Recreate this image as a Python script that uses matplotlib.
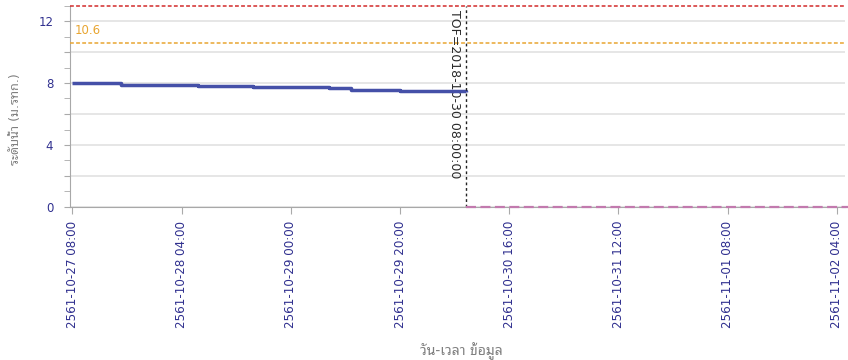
import matplotlib
matplotlib.use("Agg")
import matplotlib.pyplot as plt
import matplotlib.dates as mdates
from matplotlib.ticker import MultipleLocator, FuncFormatter
import pandas as pd

# observed water level (step changes), times in Gregorian, labels in Buddhist era
level_times = pd.to_datetime(["2018-10-27 08:00", "2018-10-27 17:00", "2018-10-28 07:00",
                              "2018-10-28 17:00", "2018-10-29 07:00", "2018-10-29 11:00",
                              "2018-10-29 20:00", "2018-10-30 07:00", "2018-10-30 08:00"])
level_values = [8.00, 7.88, 7.80, 7.71, 7.66, 7.56, 7.47, 7.47, 7.40]

forecast_times = pd.to_datetime(["2018-10-30 08:00", "2018-11-02 06:00"])
forecast_values = [0, 0]

tof_time = pd.Timestamp("2018-10-30 08:00")
bank_level = 13.0
warn_level = 10.6
tick_times = pd.date_range("2018-10-27 08:00", periods=8, freq="20h")

x_min = pd.Timestamp("2018-10-27 07:35")
x_max = pd.Timestamp("2018-11-02 05:28")

tick_col = "#30308f"
grey = "#7f7f7f"
thai = ["DejaVu Sans", "Noto Sans Thai Looped"]

fig = plt.figure(figsize=(8.48, 3.6), dpi=100)
ax = fig.add_axes([70 / 848, 1 - 207 / 360, 775 / 848, 201.5 / 360])

ax.plot(level_times, level_values, drawstyle="steps-post", color="#4550a8", lw=2.5,
        solid_capstyle="butt", zorder=4)
ax.plot(forecast_times, forecast_values, color="#c27aae", lw=1.6, dashes=(4.5, 2),
        zorder=5, clip_on=False)
ax.axhline(bank_level, color="#d22b2b", lw=1.1, dashes=(2.5, 1.5), zorder=3, clip_on=False)
ax.axhline(warn_level, color="#e8a531", lw=1.1, dashes=(2.5, 1.5), zorder=3)
ax.axvline(tof_time, color="#222222", lw=1.0, dashes=(2, 2), zorder=4)

ax.text(0.006, 10.95, "10.6", transform=ax.get_yaxis_transform(), color="#e8a531",
        fontsize=8.5, ha="left", va="bottom")
ax.text(tof_time - pd.Timedelta(hours=2.0), 12.7, "TOF=2018-10-30 08:00:00",
        rotation=-90, ha="center", va="top", fontsize=9, color="#2a2a2a")

ax.set_xlim(x_min, x_max)
ax.set_ylim(0, 13)

ax.yaxis.set_major_locator(MultipleLocator(2))
ax.yaxis.set_minor_locator(MultipleLocator(1))
ax.yaxis.set_major_formatter(FuncFormatter(lambda v, p: f"{v:.0f}" if v % 4 == 0 else ""))
ax.grid(axis="y", which="major", color="#e2e2e2", lw=1.2)
ax.set_axisbelow(True)

ax.set_xticks(tick_times)
ax.xaxis.set_major_formatter(FuncFormatter(
    lambda v, p: (lambda d: f"{d.year + 543}-{d:%m-%d %H:%M}")(mdates.num2date(v))))
ax.tick_params(axis="x", rotation=90, labelsize=8.6, labelcolor=tick_col, color="#aaaaaa",
               length=5, pad=5)
ax.tick_params(axis="y", which="both", labelsize=8.5, labelcolor=tick_col, color="#aaaaaa",
               length=4, pad=8)

for s in ["top", "right"]:
    ax.spines[s].set_visible(False)
for s in ["left", "bottom"]:
    ax.spines[s].set_color("#a8a8a8")

ax.set_ylabel("ระดับน้ำ (ม.รทก.)", family=thai, color=grey, fontsize=9)
ax.yaxis.set_label_coords(-0.062, 0.435)
ax.set_xlabel("วัน-เวลา ข้อมูล", family=thai, color=grey, fontsize=10)
ax.xaxis.set_label_coords(0.505, -0.67)

fig.savefig("out.png", dpi=100)
